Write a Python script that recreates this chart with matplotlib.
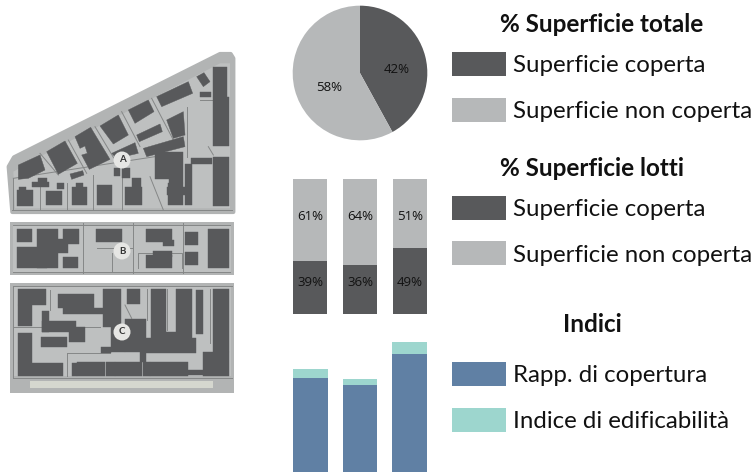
import matplotlib
matplotlib.use("Agg")
import matplotlib.pyplot as plt
from matplotlib.patches import Polygon, Rectangle, Circle

W, H = 756, 472
DARK = "#58595b"
LIGHT = "#b6b8b9"
BLUE = "#6080a4"
TEAL = "#9dd6ce"
SITE = "#b2b4b4"
LOT = "#bec0c0"
ROAD = "#858787"

plt.rcParams['font.family'] = ['Lato', 'DejaVu Sans']

# pie
pie_values = [42, 58]
pie_labels = ["42%", "58%"]

# lots
covered = [39, 36, 49]
not_covered = [61, 64, 51]

# indices
rapp_copertura = [0.39, 0.36, 0.49]
indice_edif = [0.037, 0.025, 0.05]

legend_covered = "Superficie coperta"
legend_free = "Superficie non coperta"
title_tot = "% Superficie totale"
title_lots = "% Superficie lotti"
title_ind = "Indici"
legend_rapp = "Rapp. di copertura"
legend_edif = "Indice di edificabilità"

# site plan shapes, in zoomed crop coordinates
outline_a = [(26, 380), (42, 352), (660, 42), (692, 42), (700, 55), (700, 516), (37, 516)]
inner_a = [(40, 395), (120, 350), (660, 70), (690, 70), (690, 505), (45, 505)]
slanted_a = [
    [(55, 375), (120, 345), (135, 390), (85, 415), (55, 418)],
    [(140, 335), (195, 303), (232, 370), (175, 403)],
    [(225, 290), (272, 262), (330, 358), (268, 388), (245, 345), (262, 340), (255, 318), (240, 325)],
    [(300, 258), (355, 225), (385, 285), (340, 312)],
    [(385, 210), (445, 180), (462, 215), (405, 250)],
    [(470, 170), (565, 125), (578, 160), (485, 200)],
    [(590, 110), (612, 98), (630, 125), (610, 140)],
    [(410, 285), (480, 252), (487, 275), (418, 305)],
    [(430, 325), (550, 290), (555, 320), (440, 350)],
    [(500, 240), (550, 215), (555, 285), (520, 295)],
    [(210, 402), (248, 392), (252, 405), (215, 418)],
    [(335, 340), (405, 308), (415, 340), (350, 355)],
]
rects_a = [(640, 80, 682, 170), (640, 170, 686, 317), (600, 157, 632, 172), (640, 350, 686, 498),
           (572, 353, 635, 372), (555, 372, 575, 494), (465, 335, 508, 416), (508, 335, 548, 430),
           (503, 430, 550, 496), (375, 440, 425, 496), (395, 415, 422, 440), (292, 435, 335, 496),
           (215, 440, 262, 496), (138, 452, 185, 496), (52, 450, 100, 498), (97, 425, 148, 442),
           (343, 385, 360, 407), (367, 385, 390, 414), (172, 430, 192, 448), (115, 415, 140, 430),
           (58, 440, 78, 452), (228, 430, 250, 442), (500, 440, 560, 465)]
roads_a = [[(40, 415), (465, 350)], [(40, 415), (40, 510)], [(120, 430), (120, 510)], [(200, 430), (200, 510)],
           [(280, 405), (280, 510)], [(365, 415), (365, 510)], [(450, 410), (490, 510)], [(35, 510), (695, 510)],
           [(600, 180), (640, 180)], [(625, 320), (640, 345)], [(560, 200), (560, 350)],
           [(120, 340), (175, 405)], [(205, 300), (260, 400)], [(285, 260), (345, 360)],
           [(365, 215), (420, 320)], [(455, 175), (520, 300)]]
rects_b = [(52, 57, 97, 97), (110, 57, 175, 175), (52, 110, 140, 175), (190, 57, 238, 102),
           (170, 88, 205, 130), (190, 140, 235, 175), (288, 57, 367, 95), (437, 57, 517, 95),
           (490, 90, 522, 108), (437, 135, 517, 175), (458, 123, 515, 140), (555, 65, 593, 105),
           (555, 125, 593, 165), (623, 57, 686, 175)]
roads_b = [[(250, 40), (250, 190)], [(400, 40), (400, 190)], [(550, 40), (550, 190)], [(40, 185), (690, 185)],
           [(40, 45), (690, 45)], [(415, 175), (415, 130), (545, 130), (545, 175)], [(335, 130), (335, 185)],
           [(290, 115), (400, 115)]]
rects_c = [(55, 238, 138, 285), (55, 285, 97, 347), (175, 252, 282, 295), (190, 295, 310, 312),
           (125, 303, 148, 365), (125, 332, 228, 365), (208, 352, 255, 397), (122, 382, 202, 412),
           (55, 370, 97, 460), (55, 460, 190, 498), (230, 457, 315, 498), (318, 457, 345, 498),
           (345, 455, 425, 498), (430, 455, 450, 498), (450, 455, 565, 498), (565, 480, 610, 495),
           (608, 425, 686, 498), (640, 238, 686, 425), (587, 240, 610, 372), (528, 238, 575, 385),
           (452, 238, 497, 385), (435, 385, 587, 428), (497, 365, 528, 385), (308, 238, 362, 350),
           (380, 238, 420, 283), (375, 328, 438, 425), (333, 350, 375, 425), (302, 410, 333, 428),
           (420, 425, 438, 455), (215, 460, 232, 498)]
roads_c = [[(40, 350), (300, 350)], [(200, 430), (200, 498)], [(40, 505), (695, 505)], [(40, 228), (695, 228)],
           [(200, 430), (330, 430)], [(440, 238), (440, 330)], [(630, 238), (630, 400)], [(40, 228), (40, 505)],
           [(150, 240), (150, 300)], [(375, 285), (395, 325)], [(500, 238), (500, 360)]]


def add_ax(x0, y0, x1, y1):
    return fig.add_axes([x0 / W, 1 - y1 / H, (x1 - x0) / W, (y1 - y0) / H])


def crop(p, top):
    # zoom crops are 3x, with the crop's top edge at "top"
    return (p[0] / 3, p[1] / 3 + top)


def draw_rects(rects, top):
    for r in rects:
        a = crop((r[0], r[1]), top)
        b = crop((r[2], r[3]), top)
        base.add_patch(Rectangle(a, b[0] - a[0], b[1] - a[1], color=DARK, lw=0.3))


def draw_roads(roads, top):
    # zorder 1 so the buildings and markers added later sit on top
    for road in roads:
        pts = [crop(p, top) for p in road]
        base.plot([p[0] for p in pts], [p[1] for p in pts], color=ROAD, lw=0.7, zorder=1)


def marker(x, y, letter):
    base.add_patch(Circle((x, y), 8.5, color="#e6e6e4", lw=0))
    base.text(x, y, letter, ha="center", va="center", fontsize=7, fontweight="bold", color="#333333")


fig = plt.figure(figsize=(W / 100, H / 100), dpi=100)

# background layer in pixels, for the site plan and the legends
base = add_ax(0, 0, W, H)
base.set_xlim(0, W)
base.set_ylim(H, 0)
base.axis("off")

# block A
base.add_patch(Polygon([crop(p, 40) for p in outline_a], facecolor=SITE, edgecolor=SITE, lw=3, joinstyle="round"))
base.add_patch(Polygon([crop(p, 40) for p in inner_a], color=LOT, lw=0))
draw_roads(roads_a, 40)
for shape in slanted_a:
    base.add_patch(Polygon([crop(p, 40) for p in shape], color=DARK, lw=0.3))
draw_rects(rects_a, 40)
marker(122, 160, "A")

# block B
base.add_patch(Rectangle((10, 222), 224, 53, color=SITE, lw=0))
base.add_patch(Rectangle((13, 225), 218, 47, color=LOT, lw=0))
draw_roads(roads_b, 210)
draw_rects(rects_b, 210)
marker(122, 251, "B")

# block C
base.add_patch(Rectangle((10, 283), 224, 110, color=SITE, lw=0))
base.add_patch(Rectangle((13, 286), 218, 90, color=LOT, lw=0))
base.add_patch(Rectangle((30, 381), 183, 7, color="#d5d7cf", lw=0))
draw_roads(roads_c, 210)
draw_rects(rects_c, 210)
marker(122, 332, "C")

# pie
ax = add_ax(292, 5, 428, 141)
ax.pie(pie_values, colors=[DARK, LIGHT], startangle=90, counterclock=False, radius=1.0,
       wedgeprops={"linewidth": 0})
ax.set_xlim(-1.01, 1.01)
ax.set_ylim(-1.01, 1.01)
ax.text(0.55, 0.05, pie_labels[0], ha="center", va="center", fontsize=9.5, color="#111111", family="Open Sans")
ax.text(-0.46, -0.21, pie_labels[1], ha="center", va="center", fontsize=9.5, color="#111111", family="Open Sans")

# stacked lots
ax = add_ax(293, 179, 427, 314)
pos = [0.5, 1.5, 2.5]
ax.bar(pos, covered, width=0.68, color=DARK)
ax.bar(pos, not_covered, width=0.68, bottom=covered, color=LIGHT)
for i in range(3):
    ax.text(pos[i], 0.23, "%d%%" % covered[i], ha="center", va="center", fontsize=9.5, color="#111111",
            family="Open Sans", transform=ax.get_xaxis_transform())
    ax.text(pos[i], 0.72, "%d%%" % not_covered[i], ha="center", va="center", fontsize=9.5, color="#111111",
            family="Open Sans", transform=ax.get_xaxis_transform())
ax.set_xlim(0.16, 2.84)
ax.set_ylim(0, 100)
ax.axis("off")

# indices
ax = add_ax(293, 342, 427, 472)
ax.bar(pos, rapp_copertura, width=0.7, color=BLUE)
ax.bar(pos, indice_edif, width=0.7, bottom=rapp_copertura, color=TEAL)
ax.set_xlim(0.15, 2.85)
ax.set_ylim(0, rapp_copertura[2] + indice_edif[2])
ax.axis("off")

# legends
swatches = [(52, DARK), (98, LIGHT), (196, DARK), (241, LIGHT), (362, BLUE), (408, TEAL)]
for y, col in swatches:
    base.add_patch(Rectangle((452, y), 54, 24, color=col, lw=0))
labels = [legend_covered, legend_free, legend_covered, legend_free, legend_rapp, legend_edif]
for (y, col), lab in zip(swatches, labels):
    base.text(513, y + 14, lab, ha="left", va="center", fontsize=17.3, color="#111111")
base.text(602, 24, title_tot, ha="center", va="center", fontsize=17.5, fontweight="bold", color="#111111")
base.text(592, 169, title_lots, ha="center", va="center", fontsize=17.5, fontweight="bold", color="#111111")
base.text(592, 325, title_ind, ha="center", va="center", fontsize=17.5, fontweight="bold", color="#111111")

fig.savefig("out.png", dpi=100)
